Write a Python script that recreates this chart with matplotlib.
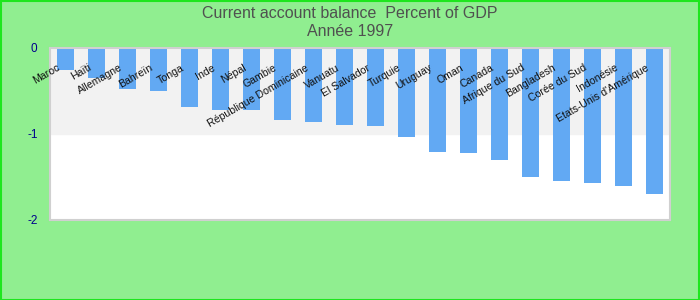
import matplotlib
matplotlib.use("Agg")
import matplotlib.pyplot as plt
from matplotlib.patches import Rectangle

countries = ["Maroc", "Haïti", "Allemagne", "Bahreïn", "Tonga", "Inde", "Népal",
             "Gambie", "République Dominicaine", "Vanuatu", "El Salvador", "Turquie",
             "Uruguay", "Oman", "Canada", "Afrique du Sud", "Bangladesh",
             "Corée du Sud", "Indonésie", "Etats-Unis d'Amérique"]
values = [-0.26, -0.35, -0.48, -0.50, -0.69, -0.72, -0.72, -0.84, -0.86, -0.90,
          -0.91, -1.04, -1.21, -1.22, -1.30, -1.50, -1.55, -1.57, -1.60, -1.70]
yticks = [0, -1, -2]
ytick_labels = ["0", "-1", "-2"]
title_lines = ["Current account balance  Percent of GDP", "Année 1997"]

plt.rcParams['font.family'] = ['Liberation Sans', 'DejaVu Sans']

fig = plt.figure(figsize=(7, 3), dpi=100, facecolor='#90ee90')
W, H = 700, 300
ax = fig.add_axes([50 / W, 1 - 220 / H, 620 / W, 172 / H])
ax.set_facecolor('white')
ax.axhspan(-1, 0, color='#f2f2f2', zorder=0)

x = list(range(len(countries)))
ax.bar(x, values, width=0.55, color='#62a9f3', zorder=2)
ax.set_xlim(-0.5, len(countries) - 0.5)
ax.set_ylim(-2, 0)
ax.set_xticks([])
ax.set_yticks(yticks)
ax.set_yticklabels(ytick_labels)
ax.tick_params(axis='y', length=0, pad=9, labelsize=8.5, labelcolor='#00008b')
for s in ax.spines.values():
    s.set_color('#d0d0d0')
    s.set_linewidth(1.5)

for i, name in enumerate(countries):
    ax.text(i - 0.2, -0.22, name, rotation=30, ha='right', va='center',
            rotation_mode='anchor', fontsize=7.6, color='#111111', zorder=3)

fig.text(0.5, 1 - 14 / H, title_lines[0], ha='center', va='center',
         fontsize=11.5, color='#505050')
fig.text(0.5, 1 - 32 / H, title_lines[1], ha='center', va='center',
         fontsize=11.5, color='#505050')

fig.patches.append(Rectangle((0.5 / W, 0.5 / H), 1 - 1.5 / W, 1 - 1.5 / H,
                             transform=fig.transFigure, fill=False,
                             edgecolor='#1ee61e', linewidth=1.5))

fig.savefig('out.png', dpi=100, facecolor=fig.get_facecolor())
